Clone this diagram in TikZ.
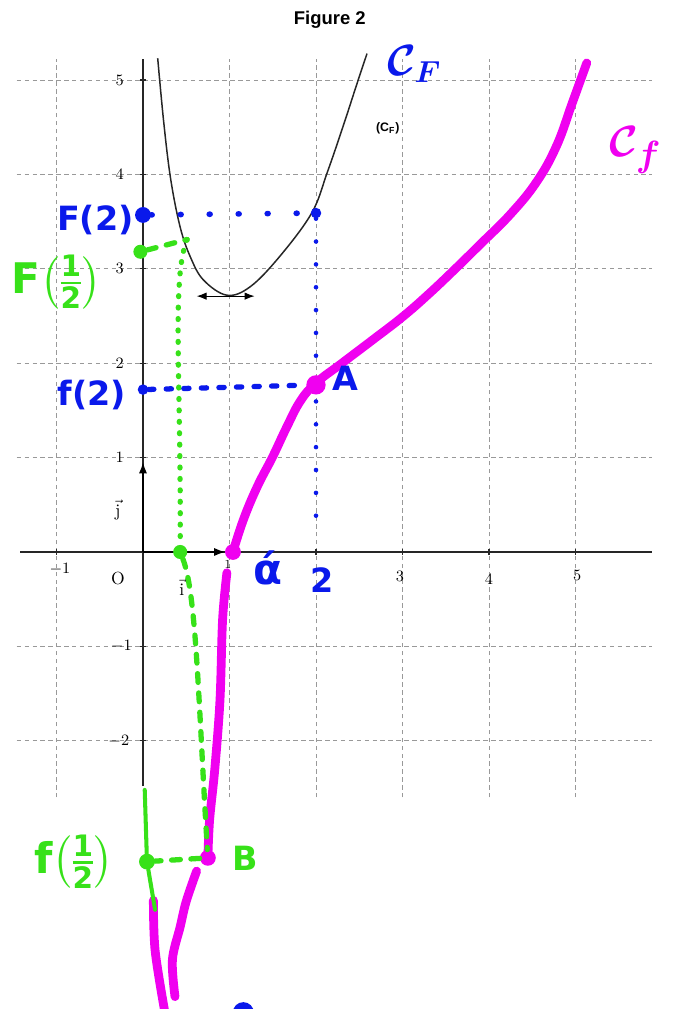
\documentclass[tikz,border=0pt]{standalone}
\usepackage{amsmath}
\usepackage{fontspec}
\setsansfont{Liberation Sans}
\newfontfamily\handfont{DejaVu Sans}
\usetikzlibrary{arrows.meta}
\definecolor{hblue}{RGB}{10,25,235}
\definecolor{hgreen}{RGB}{55,225,25}
\definecolor{hpink}{RGB}{240,0,240}
\tikzset{
  gridline/.style ={gray!80, line width=0.5pt, dash pattern=on 2.5pt off 2pt},
  axisline/.style ={black!85, line width=0.7pt},
  vecarr/.style   ={-{Latex[length=2.2mm,width=1.6mm]}, line width=0.7pt},
  dotnode/.style  ={circle, inner sep=0pt, minimum size=#1},
  bdot/.style     ={dotnode=#1, fill=hblue},
  gdot/.style     ={dotnode=#1, fill=hgreen},
  pdot/.style     ={dotnode=#1, fill=hpink},
  hand/.style     ={font=\handfont\bfseries\fontsize{19}{21}\selectfont, inner sep=0pt},
  bighand/.style  ={font=\handfont\bfseries\fontsize{24}{26}\selectfont, inner sep=0pt},
  script/.style   ={font=\fontsize{#1}{#1}\selectfont\boldmath},
  tick/.style     ={font=\small, inner sep=1pt},
  cfcurve/.style  ={black!85, line width=0.85pt},
  fcurve/.style   ={hpink, line width=5pt, line cap=round, line join=round},
  bdots/.style    ={hblue, line width=3.2pt, line cap=round, dash pattern=on 0.5pt off 16pt},
  bvdots/.style   ={hblue, line width=2.6pt, line cap=round, dash pattern=on 0pt off 13pt},
  bdash/.style    ={hblue, line width=3pt, line cap=round, dash pattern=on 3pt off 7pt},
  gdots/.style    ={hgreen, line width=3pt, line cap=round, dash pattern=on 0.5pt off 6pt},
  gdash/.style    ={hgreen, line width=3pt, line cap=round, dash pattern=on 5pt off 6pt}
}
\newcommand{\half}{\genfrac{(}{)}{1.4pt}{1}{\text{1}}{\text{2}}}

\begin{document}
\begin{tikzpicture}[x=1.73cm, y=1.888cm]
  \useasboundingbox (-1.653,-4.841) rectangle (6.220,5.847);

  \foreach \k in {-1,1,2,3,4,5}
    \draw[gridline] (\k,-2.6) -- (\k,5.22);
  \foreach \k in {-2,-1,1,2,3,4,5}
    \draw[gridline] (-1.46,\k) -- (5.88,\k);

  \coordinate (O) at (0,0);
  \coordinate (xL) at (-1.42,0);
  \coordinate (xR) at (5.88,0);
  \coordinate (yB) at (0,-2.48);
  \coordinate (yT) at (0,5.22);
  \draw[axisline] (xL) -- (xR);
  \draw[axisline] (yB) -- (yT);
  \foreach \k in {-1,1,2,3,4,5}
    \draw[axisline] (\k,-0.03) -- (\k,0.03);
  \foreach \k in {-2,-1,1,2,3,4,5}
    \draw[axisline] (-0.035,\k) -- (0.035,\k);

  \coordinate (ivec) at (0.95,0);
  \coordinate (jvec) at (0,0.95);
  \draw[vecarr] (O) -- (ivec);
  \draw[vecarr] (O) -- (jvec);

  \node[tick] (xm1) at (-0.96,-0.18) {$-1$};
  \node[tick, font=\scriptsize] (x1) at (0.98,-0.13) {1};
  \node[tick] (x3) at (2.97,-0.26) {3};
  \node[tick] (x4) at (4,-0.29) {4};
  \node[tick] (x5) at (5.02,-0.25) {5};
  \foreach \k in {1,2,3,4,5}
    \node[tick] (y\k) at (-0.27,\k) {\k};
  \node[tick] (ym1) at (-0.25,-1) {$-1$};
  \node[tick] (ym2) at (-0.28,-2) {$-2$};
  \node[font=\normalsize, inner sep=1pt] (orig) at (-0.29,-0.28) {O};
  \node[font=\normalsize, inner sep=0pt] (jlab) at (-0.29,0.44) {$\vec{\mathrm{j}}$};
  \node[font=\normalsize, inner sep=0pt] (ilab) at (0.45,-0.37) {$\vec{\mathrm{i}}$};

  \node[font=\sffamily\bfseries\fontsize{10.5}{12}\selectfont] (title) at (2.16,5.64) {Figure 2};
  \node[font=\sffamily\bfseries\scriptsize] (cflab) at (2.83,4.49) {(C\textsubscript{F})};

  \draw[cfcurve] plot[smooth, tension=0.6] coordinates {(0.17,5.23) (0.24,4.55) (0.32,3.95)
    (0.43,3.44) (0.55,3.12) (0.70,2.88) (0.97,2.72) (1.24,2.81) (1.58,3.13) (1.95,3.59)
    (2.13,4.02) (2.31,4.50) (2.47,4.95) (2.59,5.28)};
  \coordinate (mL) at (0.62,2.71);
  \coordinate (mR) at (1.29,2.71);
  \draw[{Latex[length=2mm,width=1.5mm]}-{Latex[length=2mm,width=1.5mm]}, line width=0.6pt] (mL) -- (mR);

  \draw[fcurve] plot[smooth, tension=0.7] coordinates {(1.04,0) (1.16,0.34) (1.32,0.69)
    (1.50,1.01) (1.66,1.32) (1.82,1.60) (2.0,1.79) (2.3,2.0) (2.66,2.25) (3.0,2.49)
    (3.3,2.73) (3.6,2.99) (3.9,3.26) (4.25,3.58) (4.55,3.92) (4.78,4.30) (4.96,4.75) (5.13,5.18)};
  \draw[fcurve] plot[smooth, tension=0.55] coordinates {(0.97,-0.22) (0.92,-0.72) (0.89,-1.57)
    (0.83,-2.3) (0.77,-2.84) (0.75,-3.24)};
  \draw[fcurve] plot[smooth, tension=0.55] coordinates {(0.62,-3.38) (0.50,-3.70) (0.43,-3.97)
    (0.34,-4.32) (0.37,-4.71)};
  \draw[fcurve] plot[smooth, tension=0.55] coordinates {(0.12,-3.69) (0.14,-4.22) (0.25,-4.86)};

  \node[bdot=9pt] (F2y) at (0,3.57) {};
  \node[bdot=6pt] (F2c) at (2,3.59) {};
  \coordinate (v2) at (2,0.23);
  \draw[bdots] (F2y) -- (F2c);
  \draw[bvdots] (F2c) -- (v2);
  \node[bdot=6pt] (f2y) at (0,1.72) {};
  \node[pdot=11pt] (A) at (2,1.77) {};
  \draw[bdash] (f2y) -- (A);
  \node[pdot=9pt] (alpha) at (1.04,0) {};
  \node[pdot=9pt] (B) at (0.75,-3.24) {};
  \node[bdot=12pt] (bot) at (1.16,-4.88) {};

  \node[gdot=8pt] (Fhy) at (-0.03,3.18) {};
  \coordinate (Fhc) at (0.51,3.31);
  \node[gdot=8pt] (gx) at (0.43,0) {};
  \node[gdot=9pt] (fhy) at (0.046,-3.28) {};
  \coordinate (gT) at (0.02,-2.52);
  \coordinate (gB) at (0.14,-3.79);
  \draw[gdash] (Fhy) -- (Fhc);
  \draw[gdots] (Fhc) .. controls (0.33,2.9) and (0.44,1.9) .. (gx);
  \draw[gdash] (gx) .. controls (0.62,-0.45) and (0.64,-1.6) .. (B);
  \draw[gdash] (B) -- (fhy);
  \draw[hgreen, line width=2.3pt, line cap=round] (gT) -- (fhy) -- (gB);

  \node[hand, text=hblue] (F2lab) at (-0.55,3.52) {F(2)};
  \node[bighand, text=hgreen] (Fhlab) at (-1.0,2.86) {F$\half$};
  \node[hand, text=hblue] (f2lab) at (-0.59,1.66) {f(2)};
  \node[bighand, text=hgreen] (fhlab) at (-0.80,-3.28) {f$\half$};
  \node[hand, text=hgreen] (Blab) at (1.18,-3.24) {B};
  \node[hand, text=hblue] (Alab) at (2.34,1.84) {A};
  \node[bighand, text=hblue] (alab) at (1.44,-0.17) {ά};
  \node[hand, text=hblue] (twolab) at (2.07,-0.30) {2};
  \node[script=26, text=hblue] (CFlab) at (3.14,5.17) {$\mathcal{C}_F$};
  \node[script=30, text=hpink] (Cflab) at (5.69,4.26) {$\mathcal{C}_f$};
\end{tikzpicture}
\end{document}
